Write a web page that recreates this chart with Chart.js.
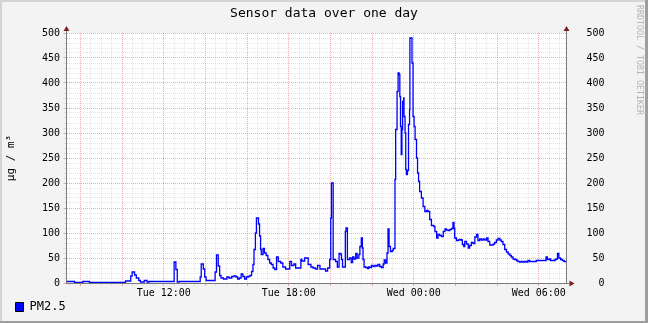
<!DOCTYPE html>
<html>
<head>
<meta charset="utf-8">
<title>Sensor data over one day</title>
<script src="https://cdn.jsdelivr.net/npm/chart.js@4"></script>
<style>
  html, body { margin: 0; padding: 0; background: #f3f3f3; }
  canvas { display: block; }
</style>
</head>
<body>
<canvas id="sensorChart" width="648" height="323"></canvas>
<script>
// minutes after Tue 00:00 where a reading starts, and the PM2.5 value from there on
const minutes = [
  440, 463, 487, 506, 610, 625, 629, 636, 641, 648, 653, 664, 672, 678, 750, 755, 759, 764,
  825, 828, 834, 838, 842, 868, 872, 877, 881, 885, 892, 902, 908, 916, 922, 928, 933, 938,
  943, 948, 953, 958, 963, 968, 973, 977, 980, 984, 987, 993, 996, 999, 1001, 1006, 1010, 1015,
  1020, 1025, 1030, 1035, 1040, 1045, 1050, 1057, 1063, 1071, 1083, 1088, 1095, 1100, 1115, 1118,
  1126, 1136, 1144, 1150, 1157, 1163, 1170, 1186, 1192, 1198, 1201, 1203, 1208, 1215, 1220, 1225,
  1230, 1232, 1235, 1243, 1245, 1249, 1255, 1260, 1264, 1268, 1273, 1277, 1282, 1285, 1289, 1292,
  1294, 1297, 1302, 1307, 1310, 1313, 1318, 1323, 1328, 1333, 1337, 1342, 1347, 1352, 1355, 1359,
  1363, 1366, 1369, 1373, 1378, 1381, 1386, 1388, 1392, 1395, 1398, 1400, 1402, 1404, 1406, 1408,
  1411, 1412, 1415, 1417, 1419, 1422, 1425, 1428, 1429, 1435, 1438, 1441, 1444, 1448, 1451, 1454,
  1457, 1462, 1467, 1472, 1477, 1481, 1486, 1491, 1498, 1501, 1506, 1510, 1515, 1520, 1525, 1530,
  1534, 1539, 1544, 1549, 1553, 1556, 1558, 1563, 1568, 1573, 1577, 1580, 1584, 1587, 1592, 1597,
  1601, 1606, 1611, 1616, 1621, 1625, 1630, 1635, 1640, 1645, 1650, 1654, 1659, 1664, 1669, 1673,
  1678, 1683, 1688, 1692, 1697, 1702, 1707, 1712, 1717, 1721, 1726, 1731, 1736, 1740, 1745, 1750,
  1755, 1760, 1765, 1769, 1774, 1793, 1821, 1825, 1830, 1834, 1847, 1851, 1854, 1858, 1863, 1868,
  1873, 1880
];
const pm25 = [
  3, 1, 3, 1, 4, 14, 22, 16, 10, 5, 2, 5, 2, 3, 42, 27, 2, 3,
  12, 38, 28, 12, 5, 22, 56, 34, 15, 10, 8, 12, 10, 13, 14, 12, 8, 10,
  18, 13, 8, 12, 13, 15, 23, 37, 67, 100, 130, 118, 94, 67, 57, 69, 60, 55,
  47, 40, 37, 30, 27, 52, 43, 40, 32, 28, 43, 35, 38, 30, 47, 44,
  50, 37, 32, 30, 28, 35, 28, 24, 30, 47, 130, 200, 47, 43, 32, 59,
  57, 47, 32, 103, 110, 47, 50, 41, 52, 48, 59, 50, 57, 73, 90, 70,
  47, 32, 31, 29, 32, 31, 35, 33, 35, 34, 37, 33, 31, 38, 46, 40,
  60, 108, 73, 63, 65, 69, 207, 307, 383, 420, 417, 373, 313, 257, 307, 363,
  370, 333, 300, 227, 217, 225, 317, 347, 490, 440, 333, 313, 287, 250, 220, 203,
  183, 170, 153, 143, 145, 143, 127, 115, 113, 103, 90, 97, 95, 93, 103, 108,
  106, 105, 107, 109, 121, 109, 90, 85, 86, 87, 86, 77, 73, 83, 78, 70,
  75, 81, 79, 92, 97, 85, 88, 86, 88, 86, 90, 83, 76, 76, 78, 81,
  86, 89, 86, 83, 77, 67, 62, 58, 55, 52, 48, 47, 45, 43, 42, 43,
  42, 43, 42, 45, 43, 45, 52, 47, 48, 45, 47, 48, 59, 50, 47, 45,
  43, 43
];

const timeLabelMinutes = [720, 1080, 1440, 1800];
const timeLabels = ['Tue 12:00', 'Tue 18:00', 'Wed 00:00', 'Wed 06:00'];
const valueLabels = [0, 50, 100, 150, 200, 250, 300, 350, 400, 450, 500];

const startMin = 440;   // Tue 07:20
const endMin = 1880;    // Wed 07:20

const AXIS = '#7a7a7a';
const MAJOR = 'rgba(225,70,70,0.45)';
const MINOR = 'rgba(150,150,150,0.24)';
const ARROW = '#7f1f1f';

// half hour grid, red every two hours
const gridMinutes = [];
for (let m = 450; m < endMin; m += 30) gridMinutes.push(m);

Chart.defaults.font.family = '"DejaVu Sans Mono", monospace';
Chart.defaults.color = '#000';

const frame = {
  id: 'frame',
  beforeDraw(chart) {
    const { ctx, chartArea: a, width, height } = chart;
    ctx.save();
    ctx.fillStyle = '#f3f3f3';
    ctx.fillRect(0, 0, width, height);
    ctx.fillStyle = '#ffffff';
    ctx.fillRect(a.left, a.top, a.right - a.left, a.bottom - a.top);
    ctx.restore();
  },
  afterDraw(chart) {
    const { ctx, chartArea: a, width, height } = chart;
    const l = Math.round(a.left - 0.5) + 0.5;
    const r = Math.round(a.right - 0.5) + 0.5;
    const t = Math.round(a.top);
    const b = Math.round(a.bottom - 0.5) + 0.5;
    ctx.save();
    // shaded border
    ctx.fillStyle = '#d4d4d4';
    ctx.fillRect(0, 0, width, 2);
    ctx.fillRect(0, 0, 2, height);
    ctx.fillStyle = '#9e9e9e';
    ctx.fillRect(width - 3, 0, 3, height);
    ctx.fillRect(0, height - 2, width, 2);

    // axis stubs and arrows
    ctx.strokeStyle = AXIS;
    ctx.lineWidth = 1;
    ctx.beginPath();
    ctx.moveTo(l, t); ctx.lineTo(l, t - 2);
    ctx.moveTo(r, t); ctx.lineTo(r, t - 2);
    ctx.moveTo(r, b); ctx.lineTo(r + 3, b);
    ctx.stroke();
    ctx.fillStyle = ARROW;
    ctx.beginPath();
    ctx.moveTo(l - 3, t - 2); ctx.lineTo(l + 3, t - 2); ctx.lineTo(l, t - 7); ctx.closePath();
    ctx.moveTo(r - 3, t - 2); ctx.lineTo(r + 3, t - 2); ctx.lineTo(r, t - 7); ctx.closePath();
    ctx.moveTo(r + 3, b - 3); ctx.lineTo(r + 3, b + 3); ctx.lineTo(r + 8, b); ctx.closePath();
    ctx.fill();

    // watermark
    ctx.translate(639, 5);
    ctx.rotate(Math.PI / 2);
    ctx.fillStyle = '#b4b4b4';
    ctx.font = '8.3px "DejaVu Sans Mono"';
    ctx.textBaseline = 'middle';
    ctx.fillText('RRDTOOL / TOBI OETIKER', 0, 0);
    ctx.restore();
  }
};

new Chart(document.getElementById('sensorChart'), {
  type: 'line',
  data: {
    datasets: [{
      label: 'PM2.5',
      data: minutes.map((m, i) => ({ x: m, y: pm25[i] })),
      borderColor: '#0000ff',
      backgroundColor: '#0000ff',
      borderWidth: 1.3,
      pointRadius: 0,
      stepped: true,
      fill: false,
      xAxisID: 'x',
      yAxisID: 'y'
    }]
  },
  options: {
    responsive: false,
    devicePixelRatio: 1,
    animation: false,
    events: [],
    layout: { padding: { left: 13.5, right: 13.5, top: 0, bottom: 0 } },
    plugins: {
      title: {
        display: true,
        text: 'Sensor data over one day',
        color: '#000',
        font: { size: 13, weight: 'normal', lineHeight: 1 },
        padding: { top: 7, bottom: 13 }
      },
      legend: {
        position: 'bottom',
        align: 'start',
        labels: {
          boxWidth: 8,
          boxHeight: 9,
          padding: 2,
          color: '#000',
          font: { size: 12 },
          generateLabels: chart => Chart.defaults.plugins.legend.labels.generateLabels(chart)
            .map(item => ({ ...item, strokeStyle: '#000', lineWidth: 1 }))
        }
      },
      tooltip: { enabled: false }
    },
    scales: {
      x: {
        type: 'linear',
        position: 'bottom',
        min: startMin,
        max: endMin,
        afterBuildTicks: axis => { axis.ticks = gridMinutes.map(value => ({ value })); },
        afterFit: axis => { axis.height = 16; },
        ticks: {
          autoSkip: false,
          maxRotation: 0,
          padding: 1,
          font: { size: 10 },
          callback: v => {
            const i = timeLabelMinutes.indexOf(v);
            return i < 0 ? '' : timeLabels[i];
          }
        },
        grid: {
          color: c => (c.tick.value % 120 === 0 ? MAJOR : MINOR),
          tickColor: c => (c.tick.value % 120 === 0 ? MAJOR : MINOR),
          tickLength: 3
        },
        border: { color: AXIS, dash: [1, 1] }
      },
      y: {
        position: 'left',
        min: 0,
        max: 500,
        afterFit: axis => { axis.width = 53; },
        ticks: {
          stepSize: 10,
          autoSkip: false,
          padding: 3.5,
          font: { size: 10 },
          callback: v => (valueLabels.includes(v) ? String(v) : '')
        },
        grid: {
          color: c => (c.tick.value === 0 ? 'rgba(0,0,0,0)' : (c.tick.value % 50 === 0 ? MAJOR : MINOR)),
          tickColor: c => (c.tick.value % 50 === 0 ? MAJOR : MINOR),
          tickLength: 3
        },
        border: { color: AXIS, dash: [1, 1] },
        title: {
          display: true,
          text: 'µg / m³',
          color: '#000',
          font: { size: 11, lineHeight: 1.2 },
          padding: { top: -8.5, bottom: 0 }
        }
      },
      y2: {
        position: 'right',
        min: 0,
        max: 500,
        afterFit: axis => { axis.width = 68; },
        ticks: {
          stepSize: 50,
          padding: 20,
          font: { size: 10 },
          callback: v => String(v).padStart(3, ' ')
        },
        grid: { display: false, drawTicks: false },
        border: { color: AXIS }
      }
    }
  },
  plugins: [frame]
});
</script>
</body>
</html>
